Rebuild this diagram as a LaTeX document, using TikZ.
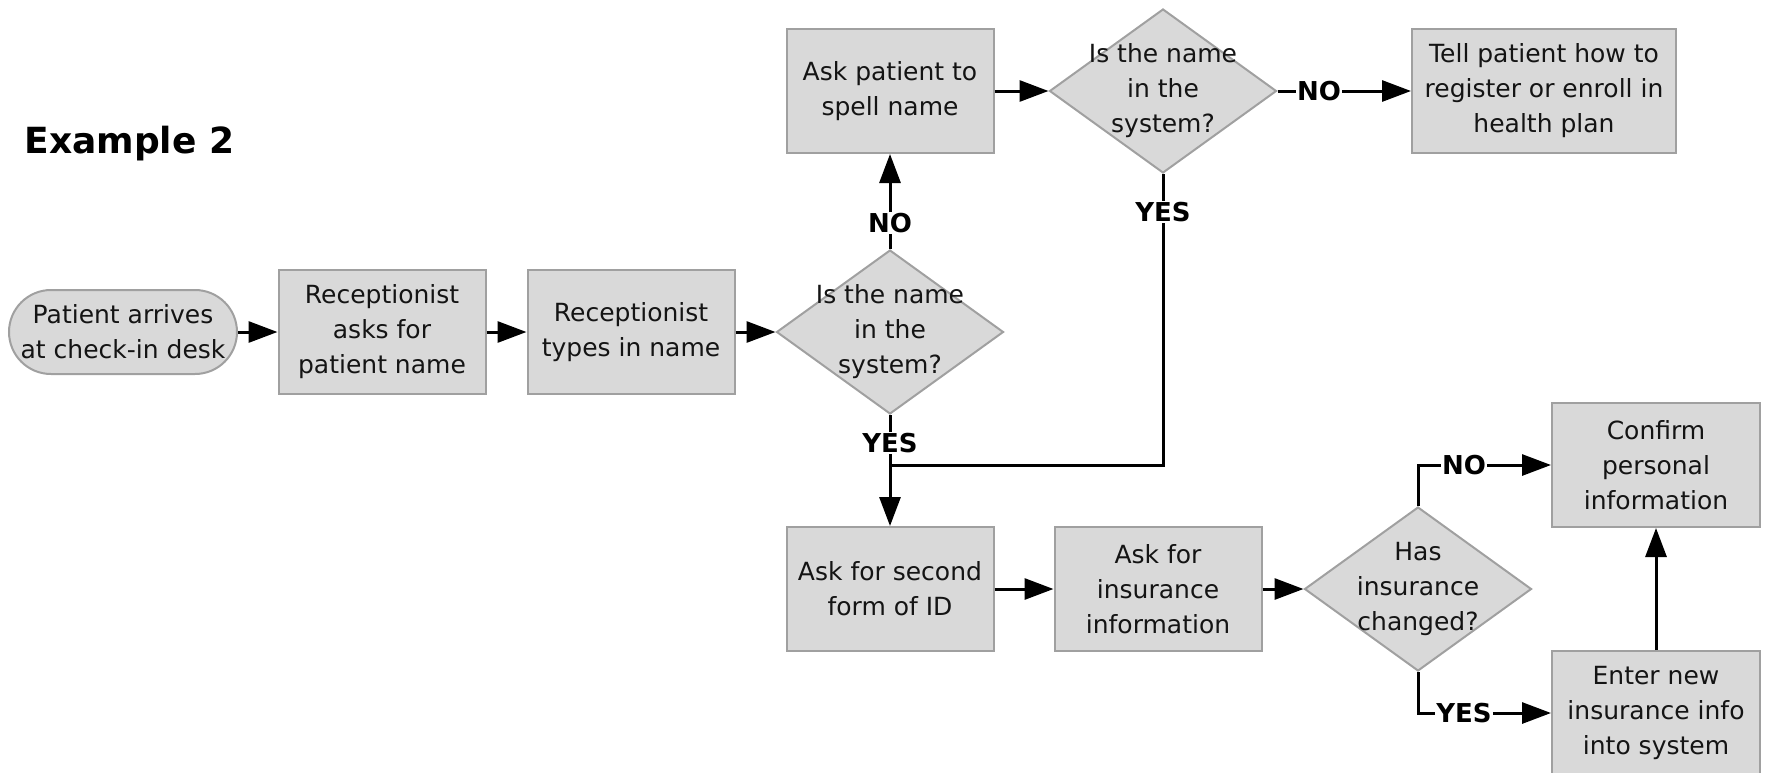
\documentclass[tikz,border=0pt]{standalone}
\usepackage{fontspec}
\setmainfont{DejaVu Sans}
\usetikzlibrary{arrows.meta,shapes.geometric}
\definecolor{chkFill}{HTML}{D9D9D9}
\definecolor{chkEdge}{HTML}{A0A0A0}
\definecolor{chkInk}{HTML}{141414}

\begin{document}
\begin{tikzpicture}[x=1pt,y=-1pt,line join=miter]
\useasboundingbox (0,0) rectangle (1766,772);
\tikzset{procbox/.style={draw=chkEdge,fill=chkFill,line width=2pt,minimum width=207pt,minimum height=124pt,align=center,text=chkInk,inner sep=2pt,font=\fontsize{25}{35}\selectfont},
  termbox/.style={procbox,rounded corners=42pt,minimum width=228pt,minimum height=84pt},
  dtext/.style={align=center,text=chkInk,inner sep=0pt,font=\fontsize{25}{35}\selectfont},
  decision/.style={diamond,draw=chkEdge,fill=chkFill,line width=2pt,minimum width=227pt,minimum height=164pt,inner sep=0pt,label={[dtext]center:#1}},
  lbl/.style={fill=white,inner sep=1pt,font=\bfseries\fontsize{26}{30}\selectfont},
  link/.style={draw=black,line width=3pt},
  arr/.style={link,-{Triangle[length=29pt,width=21pt]}}}
\node[anchor=west,font=\bfseries\fontsize{36}{40}\selectfont] (title) at (21,144) {Example 2};
% top row
\node[termbox] (arrive) at (123,332) {Patient arrives\\at check-in desk};
\node[procbox] (askname) at (382,332) {Receptionist\\asks for\\patient name};
\node[procbox] (typename) at (631,332) {Receptionist\\types in name};
\node[decision={Is the name\\in the\\system?}] (found) at (890,332) {};
\node[procbox] (spell) at (890,91) {Ask patient to\\spell name};
\node[decision={Is the name\\in the\\system?}] (refound) at (1163,91) {};
\node[procbox,minimum width=264pt] (enroll) at (1544,91) {Tell patient how to\\register or enroll in\\health plan};
% bottom row
\node[procbox] (secondid) at (890,589) {Ask for second\\form of ID};
\node[procbox] (insure) at (1158,589) {Ask for\\insurance\\information};
\node[decision={Has\\insurance\\changed?}] (changed) at (1418,589) {};
\node[procbox,minimum width=208pt] (confirm) at (1656,465) {Confirm\\personal\\information};
\node[procbox,minimum width=208pt] (newins) at (1656,713) {Enter new\\insurance info\\into system};
% branch labels
\node[lbl] (noA) at (890,223) {NO};
\node[lbl] (yesA) at (890,443) {YES};
\node[lbl] (noB) at (1319,91) {NO};
\node[lbl] (yesB) at (1163,212) {YES};
\node[lbl] (noC) at (1464,465) {NO};
\node[lbl] (yesC) at (1464,713) {YES};
\coordinate (joinA) at (890,465);
% connectors
\draw[arr] (arrive) -- (askname);
\draw[arr] (askname) -- (typename);
\draw[arr] (typename) -- (found);
\draw[link] (found) -- (noA);
\draw[arr] (noA) -- (spell);
\draw[arr] (spell) -- (refound);
\draw[link] (refound) -- (noB);
\draw[arr] (noB) -- (enroll);
\draw[link] (refound) -- (yesB);
\draw[link] (yesB) |- (joinA);
\draw[link] (found) -- (yesA);
\draw[arr] (yesA) -- (secondid);
\draw[arr] (secondid) -- (insure);
\draw[arr] (insure) -- (changed);
\draw[link] (changed) |- (noC);
\draw[arr] (noC) -- (confirm);
\draw[link] (changed) |- (yesC);
\draw[arr] (yesC) -- (newins);
\draw[arr] (newins) -- (confirm);
\end{tikzpicture}
\end{document}
